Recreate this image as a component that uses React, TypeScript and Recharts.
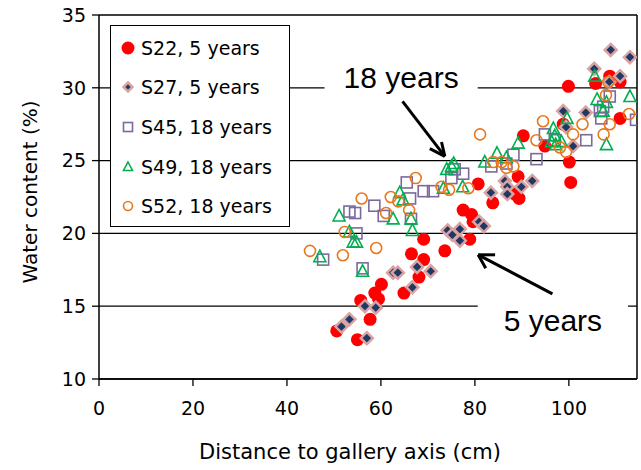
import {
  ScatterChart,
  Scatter,
  XAxis,
  YAxis,
  CartesianGrid,
  Legend,
  ReferenceArea,
  ReferenceLine,
} from 'recharts'

// distance (cm), water content (%)
const S22: [number, number][] = [
  [50.6, 13.3], [55.0, 12.7], [55.7, 15.4], [57.7, 14.1], [58.7, 15.9], [59.5, 15.5],
  [60.1, 16.5], [64.9, 15.9], [66.5, 18.6], [68.1, 17.0], [69.1, 18.2], [69.1, 19.6],
  [73.6, 18.8], [77.5, 21.6], [79.3, 21.3], [79.6, 20.8], [78.9, 19.6], [80.7, 23.4],
  [83.8, 22.1], [89.2, 23.9], [88.5, 22.7], [89.4, 22.4], [90.3, 26.7], [94.9, 26.0],
  [98.8, 27.5], [99.9, 30.1], [100.1, 24.9], [100.4, 23.5], [105.7, 30.3], [108.7, 30.8],
  [110.9, 30.4], [110.9, 27.9],
]
const S27: [number, number][] = [
  [51.6, 13.6], [53.3, 14.1], [57.0, 12.8], [56.6, 15.0], [58.9, 14.9], [62.6, 17.3],
  [63.6, 17.3], [66.7, 16.3], [67.7, 17.7], [70.6, 17.4], [74.2, 20.2], [75.2, 19.9],
  [76.8, 20.3], [76.8, 19.5], [80.9, 20.8], [81.9, 20.5], [83.4, 22.8], [86.4, 23.6],
  [86.9, 23.2], [86.9, 22.7], [89.9, 23.2], [92.2, 23.6], [98.8, 28.4], [99.4, 27.3],
  [100.9, 26.0], [103.6, 28.3], [105.4, 31.3], [108.6, 30.4], [108.9, 32.6], [110.9, 30.8],
  [113.0, 32.1],
]
const S45: [number, number][] = [
  [47.7, 18.2], [53.3, 21.5], [54.5, 21.4], [54.8, 20.0], [56.1, 17.6], [58.6, 21.9],
  [60.6, 21.2], [65.5, 23.5], [66.2, 22.4], [66.4, 21.0], [69.1, 22.9], [71.1, 22.9],
  [75.0, 23.8], [75.7, 24.4], [77.5, 24.1], [83.5, 24.6], [86.7, 24.8], [88.2, 25.4],
  [93.1, 25.1], [94.9, 26.8], [97.0, 26.4], [103.7, 26.4], [106.6, 28.4], [106.9, 27.9],
  [107.3, 28.7], [108.7, 29.4], [114.3, 27.8],
]
const S49: [number, number][] = [
  [47.0, 18.4], [51.1, 21.2], [53.3, 20.1], [54.1, 19.4], [54.8, 19.4], [56.1, 17.4],
  [62.6, 21.0], [64.0, 22.8], [64.7, 22.3], [66.4, 21.0], [66.7, 20.2], [73.3, 23.1],
  [74.0, 24.4], [75.0, 24.6], [75.5, 24.8], [77.4, 23.2], [82.1, 24.9], [84.7, 25.5],
  [86.7, 25.2], [89.2, 26.2], [96.3, 26.3], [96.7, 27.2], [97.0, 26.7], [97.2, 26.1],
  [98.4, 26.3], [99.6, 27.9], [105.5, 30.8], [106.0, 29.2], [107.3, 28.4], [108.0, 29.0],
  [108.0, 26.1], [113.0, 29.4],
]
const S52: [number, number][] = [
  [44.9, 18.8], [51.9, 18.5], [52.3, 20.1], [55.9, 22.4], [59.0, 19.0], [61.1, 21.4],
  [62.1, 22.5], [63.7, 22.2], [66.0, 21.6], [67.4, 23.8], [72.9, 23.2], [74.5, 23.0],
  [78.6, 23.1], [81.1, 26.8], [83.9, 24.9], [85.7, 24.9], [86.7, 24.5], [88.2, 24.6],
  [93.1, 26.4], [94.5, 27.7], [98.1, 25.9], [99.4, 25.6], [100.9, 26.8], [102.9, 27.5],
  [107.4, 26.8], [107.9, 29.5], [108.4, 30.4], [108.7, 27.5], [112.8, 28.2],
]

const X_TICKS = [0, 20, 40, 60, 80, 100]
const Y_TICKS = [10, 15, 20, 25, 30, 35]
const SERIES_NAMES = ['S22, 5 years', 'S27, 5 years', 'S45, 18 years', 'S49, 18 years', 'S52, 18 years']

// annotation arrows: [tail, tip, head1, head2]
const ARROW_18 = [{ x: 64.6, y: 29.07 }, { x: 73.6, y: 25.29 }, { x: 70.4, y: 25.82 }, { x: 72.9, y: 26.28 }]
const ARROW_5 = [{ x: 96.5, y: 15.85 }, { x: 80.7, y: 18.53 }, { x: 84.3, y: 18.53 }, { x: 82.3, y: 17.61 }]

const toPoints = (arr: [number, number][]) => arr.map(([x, y]) => ({ x, y }))

const FONT = 'DejaVu Sans, Verdana, sans-serif'
const RED = '#FF0000'
const NAVY = '#1F3864'
const PINK = '#D9A3A3'
const PURPLE = '#7B6A9C'
const GREEN = '#00B050'
const ORANGE = '#E8781E'

const redDot = (p: any) => <circle cx={p.cx} cy={p.cy} r={6.5} fill={RED} />
const diamond = (p: any, s = 6) => (
  <polygon
    points={`${p.cx},${p.cy - s} ${p.cx + s},${p.cy} ${p.cx},${p.cy + s} ${p.cx - s},${p.cy}`}
    fill={NAVY}
    stroke={PINK}
    strokeWidth={2.5}
  />
)
const square = (p: any, s = 5.5) => (
  <rect x={p.cx - s} y={p.cy - s} width={2 * s} height={2 * s} fill="none" stroke={PURPLE} strokeWidth={1.6} />
)
const triangle = (p: any, s = 6) => (
  <polygon
    points={`${p.cx},${p.cy - s - 0.5} ${p.cx + s},${p.cy + s - 1} ${p.cx - s},${p.cy + s - 1}`}
    fill="none"
    stroke={GREEN}
    strokeWidth={1.6}
  />
)
const ring = (p: any, r = 5.5) => <circle cx={p.cx} cy={p.cy} r={r} fill="none" stroke={ORANGE} strokeWidth={1.6} />

const legendMarks = [
  (cx: number, cy: number) => <circle cx={cx} cy={cy} r={6.5} fill={RED} />,
  (cx: number, cy: number) => diamond({ cx, cy }, 4.5),
  (cx: number, cy: number) => square({ cx, cy }, 4.5),
  (cx: number, cy: number) => triangle({ cx, cy }, 4.5),
  (cx: number, cy: number) => ring({ cx, cy }, 4.5),
]

function renderLegend() {
  return (
    <div
      style={{
        border: '1.5px solid #000',
        background: '#fff',
        boxSizing: 'border-box',
        width: 180,
        height: 202,
        padding: '2px 0 0 8px',
        fontFamily: FONT,
        fontSize: 19,
        color: '#000',
      }}
    >
      {SERIES_NAMES.map((name, i) => (
        <div key={name} style={{ display: 'flex', alignItems: 'center', height: 39.6 }}>
          <svg width={22} height={20}>
            {legendMarks[i](9, 10)}
          </svg>
          <span>{name}</span>
        </div>
      ))}
    </div>
  )
}

export default function App() {
  const tick = { fontSize: 19, fontFamily: FONT, fill: '#000' }
  return (
    <div style={{ position: 'absolute', left: 0, top: 0, background: '#fff' }}>
      <ScatterChart width={641} height={470} margin={{ top: 15, right: 4, bottom: 0, left: 0 }}>
        <CartesianGrid horizontal vertical={false} stroke="#000" strokeWidth={1.3} />
        <XAxis
          type="number"
          dataKey="x"
          domain={[0, 114.5]}
          ticks={X_TICKS}
          allowDataOverflow
          height={91}
          tick={tick}
          tickSize={7}
          tickMargin={16}
          axisLine={{ stroke: '#000', strokeWidth: 1.5 }}
          tickLine={{ stroke: '#000', strokeWidth: 1.3 }}
          label={(props: any) => {
            const vb = props.viewBox
            return (
              <text
                x={vb.x + vb.width / 2 - 18}
                y={vb.y + vb.height - 11}
                textAnchor="middle"
                fontSize={21}
                fontFamily={FONT}
                fill="#000"
              >
                Distance to gallery axis (cm)
              </text>
            )
          }}
        />
        <YAxis
          type="number"
          dataKey="y"
          domain={[10, 35]}
          ticks={Y_TICKS}
          allowDataOverflow
          width={99}
          tick={tick}
          tickSize={7}
          tickMargin={6}
          axisLine={{ stroke: '#000', strokeWidth: 1.5 }}
          tickLine={{ stroke: '#000', strokeWidth: 1.3 }}
          label={(props: any) => {
            const vb = props.viewBox
            const cx = vb.x + 30
            const cy = vb.y + vb.height / 2 - 5
            return (
              <text
                x={cx}
                y={cy}
                transform={`rotate(-90 ${cx} ${cy})`}
                textAnchor="middle"
                dominantBaseline="central"
                fontSize={20}
                fontFamily={FONT}
                fill="#000"
              >
                Water content (%)
              </text>
            )
          }}
        />
        <ReferenceLine x={114.5} stroke="#000" strokeWidth={1.5} ifOverflow="extendDomain" />
        <ReferenceArea
          x1={48}
          x2={80.6}
          y1={29.7}
          y2={31.7}
          fill="#fff"
          fillOpacity={1}
          stroke="none"
          label={{ value: '18 years', position: 'center', fontSize: 30, fontFamily: 'Liberation Sans, Arial, sans-serif', fill: '#000' }}
        />
        <ReferenceArea
          x1={80.6}
          x2={112.6}
          y1={12.8}
          y2={15.2}
          fill="#fff"
          fillOpacity={1}
          stroke="none"
          label={{ value: '5 years', position: 'center', fontSize: 30, fontFamily: 'Liberation Sans, Arial, sans-serif', fill: '#000' }}
        />
        {[ARROW_18, ARROW_5].map((a, i) => (
          <ReferenceLine key={`s${i}`} segment={[a[0], a[1]]} stroke="#000" strokeWidth={3} />
        ))}
        {[ARROW_18, ARROW_5].map((a, i) => (
          <ReferenceLine key={`h1${i}`} segment={[a[2], a[1]]} stroke="#000" strokeWidth={3} />
        ))}
        {[ARROW_18, ARROW_5].map((a, i) => (
          <ReferenceLine key={`h2${i}`} segment={[a[3], a[1]]} stroke="#000" strokeWidth={3} />
        ))}
        <Scatter name={SERIES_NAMES[0]} data={toPoints(S22)} shape={redDot} isAnimationActive={false} />
        <Scatter name={SERIES_NAMES[1]} data={toPoints(S27)} shape={(p: any) => diamond(p)} isAnimationActive={false} />
        <Scatter name={SERIES_NAMES[2]} data={toPoints(S45)} shape={(p: any) => square(p)} isAnimationActive={false} />
        <Scatter name={SERIES_NAMES[3]} data={toPoints(S49)} shape={(p: any) => triangle(p)} isAnimationActive={false} />
        <Scatter name={SERIES_NAMES[4]} data={toPoints(S52)} shape={(p: any) => ring(p)} isAnimationActive={false} />
        <Legend
          layout="vertical"
          verticalAlign="middle"
          align="center"
          content={renderLegend}
          wrapperStyle={{ left: 110, top: 25, width: 180, height: 202 }}
        />
      </ScatterChart>
    </div>
  )
}
